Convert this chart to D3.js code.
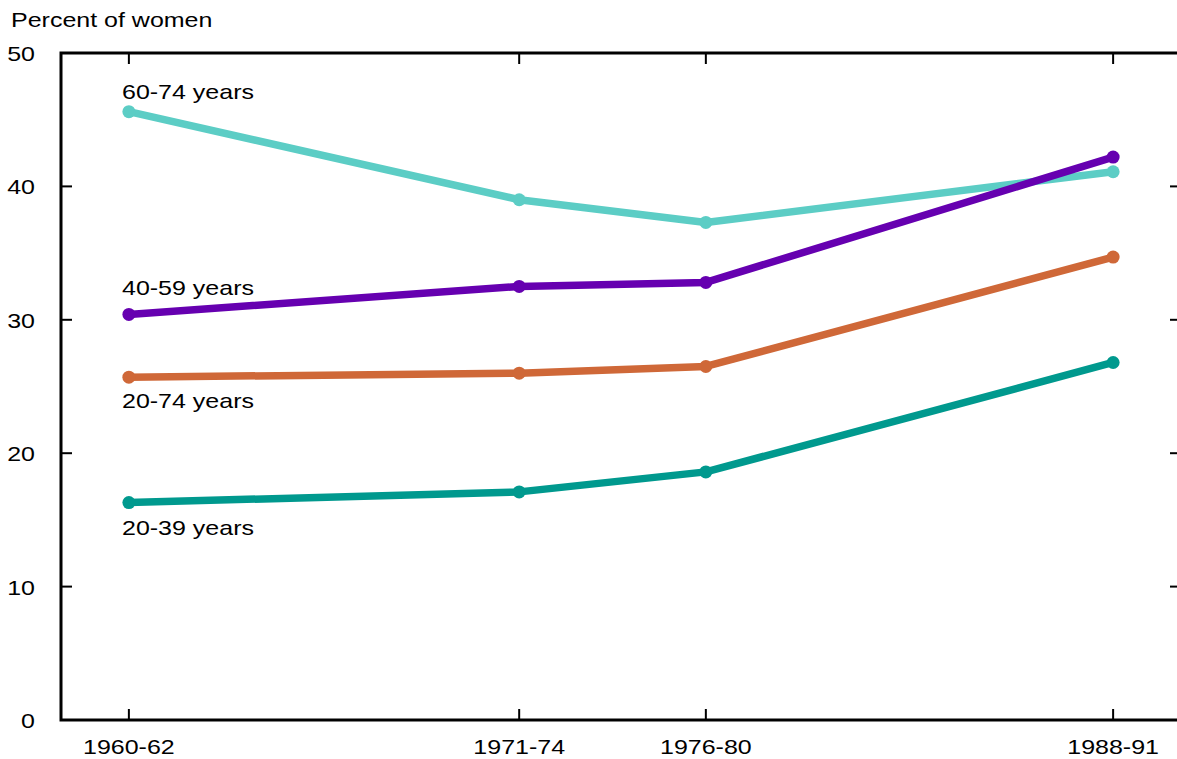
<!DOCTYPE html>
<html><head><meta charset="utf-8">
<script src="https://cdn.jsdelivr.net/npm/d3@7"></script>
<style>body{margin:0;background:#fff;} svg{display:block;font-family:"Liberation Sans",Arial,sans-serif;}</style>
</head><body>
<svg id="c" width="1177" height="759"></svg>
<script>
const periods = ["1960-62","1971-74","1976-80","1988-91"];
const periodYears = [1961, 1972.5, 1978, 1990];
const yTicks = [0,10,20,30,40,50];
const seriesNames = ["60-74 years","40-59 years","20-74 years","20-39 years"];
const s6074 = [45.6, 39.0, 37.3, 41.1];
const s4059 = [30.4, 32.5, 32.8, 42.2];
const s2074 = [25.7, 26.0, 26.5, 34.7];
const s2039 = [16.3, 17.1, 18.6, 26.8];
const colors = ["#5ccdc5","#6600b0","#cf6838","#00998e"];
const labelOffsets = [-13, -19, 31, 32.5];

const series = [s6074, s4059, s2074, s2039];
const svg = d3.select("#c");
const L = 61, R = 1181, T = 53, B = 720;
const FS = 21, SX = 1.19;
const x = d3.scaleLinear().domain([1959, 1992]).range([L, R]);
const y = d3.scaleLinear().domain([0, 50]).range([B, T]);

function txt(px, py, s, anchor) {
  return svg.append("text")
    .attr("transform", `translate(${px},${py}) scale(${SX},1)`)
    .attr("text-anchor", anchor || "start")
    .attr("font-size", FS).attr("fill", "#000").text(s);
}

// ticks
const tg = svg.append("g").attr("stroke","#000").attr("stroke-width",2);
yTicks.forEach(v => {
  if (v===0 || v===50) return;
  tg.append("line").attr("x1",L).attr("x2",L+11).attr("y1",y(v)).attr("y2",y(v));
  tg.append("line").attr("x1",R-11).attr("x2",R).attr("y1",y(v)).attr("y2",y(v));
});
periodYears.forEach(v => {
  tg.append("line").attr("x1",x(v)).attr("x2",x(v)).attr("y1",B).attr("y2",B-11);
  tg.append("line").attr("x1",x(v)).attr("x2",x(v)).attr("y1",T).attr("y2",T+11);
});
// frame
svg.append("rect").attr("x",L).attr("y",T).attr("width",R-L).attr("height",B-T)
  .attr("fill","none").attr("stroke","#000").attr("stroke-width",3);

// tick labels
yTicks.forEach(v => txt(35, y(v)+8, v, "end"));
periods.forEach((p,i) => txt(x(periodYears[i]), 754, p, "middle"));
txt(11, 27, "Percent of women");

// lines
const line = d3.line().x((d,i)=>x(periodYears[i])).y(d=>y(d));
series.forEach((s,k) => {
  svg.append("path").datum(s).attr("d",line).attr("fill","none")
    .attr("stroke",colors[k]).attr("stroke-width",7.5).attr("stroke-linejoin","round");
  svg.append("g").selectAll("circle").data(s).join("circle")
    .attr("cx",(d,i)=>x(periodYears[i])).attr("cy",d=>y(d)).attr("r",6.5).attr("fill",colors[k]);
  txt(122, y(s[0])+labelOffsets[k], seriesNames[k]);
});
</script>
</body></html>
